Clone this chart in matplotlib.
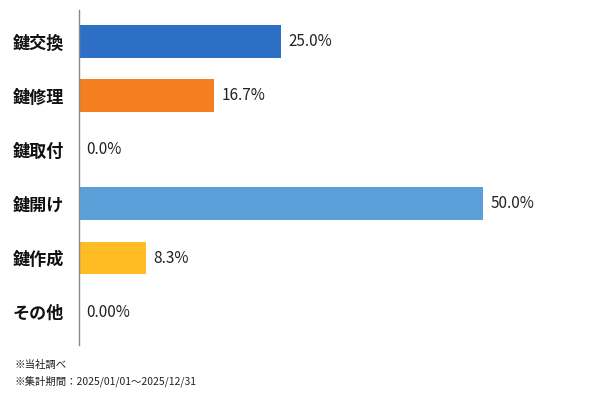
import matplotlib
matplotlib.use("Agg")
import matplotlib.pyplot as plt

plt.rcParams['font.family'] = ['Noto Sans CJK JP', 'DejaVu Sans']

categories = ["鍵交換", "鍵修理", "鍵取付", "鍵開け", "鍵作成", "その他"]
values = [25.0, 16.7, 0.0, 50.0, 8.3, 0.0]
labels = ["25.0%", "16.7%", "0.0%", "50.0%", "8.3%", "0.00%"]
colors = ["#2E6FC6", "#F47F20", "#A5A5A5", "#5BA0D9", "#FFBC25", "#4472C4"]

fig = plt.figure(figsize=(6, 4), dpi=100)
ax = fig.add_axes([79 / 600, 55 / 400, 511 / 600, 335 / 400])

ypos = list(range(len(categories)))
ax.barh(ypos, values, height=0.61, color=colors)
for y, v, lab in zip(ypos, values, labels):
    ax.text(v + 0.9, y, lab, va="center", ha="left", fontsize=11, color="#222222")

ax.set_xlim(0, 511 / 8.08)
ax.set_ylim(5.61, -0.59)
ax.set_yticks(ypos)
ax.set_yticklabels(categories, fontsize=12.3, fontweight="bold", color="#111111")
ax.tick_params(axis="y", length=0, pad=11)
ax.set_xticks([])
for s in ["top", "right", "bottom"]:
    ax.spines[s].set_visible(False)
ax.spines["left"].set_color("#888888")
ax.spines["left"].set_linewidth(1.0)

fig.text(14 / 600, 1 - 365 / 400, "※当社調べ", fontsize=7.5, va="center", color="#222222")
fig.text(14 / 600, 1 - 381 / 400, "※集計期間：2025/01/01～2025/12/31", fontsize=7.5, va="center", color="#222222")

fig.savefig("out.png", dpi=100)
